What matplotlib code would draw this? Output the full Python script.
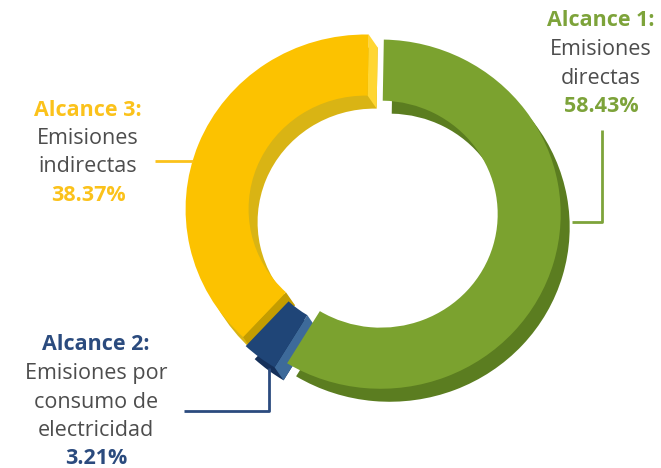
import numpy as np
import matplotlib
matplotlib.use('Agg')
import matplotlib.pyplot as plt
from matplotlib.patches import Polygon

plt.rcParams['font.family'] = ['Open Sans', 'DejaVu Sans']

# data (order = clockwise from the top)
scopes = ['Alcance 1:', 'Alcance 2:', 'Alcance 3:']
descriptions = [['Emisiones', 'directas'],
                ['Emisiones por', 'consumo de', 'electricidad'],
                ['Emisiones', 'indirectas']]
shares = [58.43, 3.21, 38.37]
share_labels = ['58.43%', '3.21%', '38.37%']

top_colors = ['#7ba22f', '#1f4577', '#fcc200']
side_colors = ['#5b7d20', '#15305a', '#d9b414']
label_colors = ['#7da33a', '#2b4b7e', '#fbc21b']
text_gray = '#4d4d4d'

W, H = 661, 468
fig = plt.figure(figsize=(W / 100, H / 100), dpi=100)

# ring axes: y squashed a bit so the ring looks tilted
squash = 0.97
ax = fig.add_axes([0, 0, 1, 1])
cx, cy = 373, (H - 212) / squash
r_out, ring_w = 180, 63
expl = 8  # pie explode is in data units here
dx, dy = 9, -13 / squash  # extrusion offset

# extruded side (shifted copy in darker colours)
ax.pie(shares, colors=side_colors, startangle=89, counterclock=False,
       radius=r_out, center=(cx + dx, cy + dy), explode=[expl] * 3,
       wedgeprops=dict(width=ring_w, linewidth=0))

# top faces
wedges, _ = ax.pie(shares, colors=top_colors, startangle=89, counterclock=False,
                   radius=r_out, center=(cx, cy), explode=[expl] * 3,
                   wedgeprops=dict(width=ring_w, linewidth=0))
for w in wedges:
    w.set_zorder(5)


def end_cap(w, ang, color):
    a = np.deg2rad(ang)
    c = np.array(w.center)
    u = np.array([np.cos(a), np.sin(a)])
    p_in = c + (w.r - w.width) * u
    p_out = c + w.r * u
    d = np.array([dx, dy])
    ax.add_patch(Polygon([p_in, p_out, p_out + d, p_in + d], closed=True,
                         facecolor=color, edgecolor='none', zorder=3))


# visible end faces: yellow end (top), yellow start and blue start
end_cap(wedges[2], wedges[2].theta1, '#ffd633')
end_cap(wedges[2], wedges[2].theta2, '#c49d00')
end_cap(wedges[1], wedges[1].theta2, '#3d6a9a')

ax.set_aspect('auto')
ax.set_xlim(0, W)
ax.set_ylim(0, H / squash)
ax.axis('off')

# overlay axes in pixel coordinates for leader lines and labels
ov = fig.add_axes([0, 0, 1, 1])
ov.set_xlim(0, W)
ov.set_ylim(H, 0)
ov.axis('off')
ov.patch.set_alpha(0)

ov.plot([572, 602, 602], [222, 222, 130], color=label_colors[0], lw=2, solid_capstyle='butt')
ov.plot([155, 193], [161, 161], color=label_colors[2], lw=2, solid_capstyle='butt')
ov.plot([269, 269, 184], [368, 411, 411], color=label_colors[1], lw=2, solid_capstyle='butt')

# label blocks: centre x, y of first line
blocks = [(601, 21), (96, 345), (88, 110)]
line_gap = 28.5
fs = 15.5
for i in range(3):
    bx, by = blocks[i]
    ov.text(bx, by, scopes[i], ha='center', va='center', fontsize=fs,
            fontweight='bold', color=label_colors[i])
    for j, line in enumerate(descriptions[i]):
        ov.text(bx, by + line_gap * (j + 1), line, ha='center', va='center',
                fontsize=fs, color=text_gray)
    ov.text(bx, by + line_gap * (len(descriptions[i]) + 1), share_labels[i],
            ha='center', va='center', fontsize=fs, fontweight='bold',
            color=label_colors[i])

fig.savefig('out.png', dpi=100)
